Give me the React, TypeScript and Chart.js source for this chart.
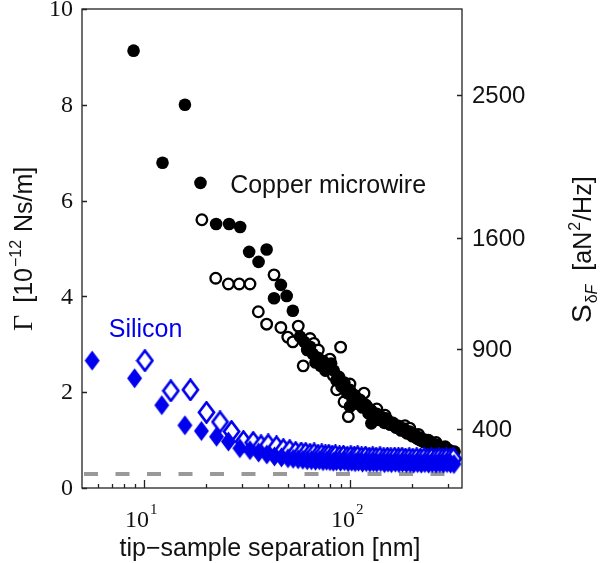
import React, { useEffect, useRef } from "react";
import { Chart, registerables } from "chart.js";

Chart.register(...registerables);

// ---- axes ----
const X_MIN = 5;
const X_MAX = 350;
const Y_MIN = 0;
const Y_MAX = 10;
const Y2_MIN = 29;
const Y2_MAX = 3041;
const yTicks = [0, 2, 4, 6, 8, 10];
const y2Ticks = [400, 900, 1600, 2500];
const xMajorTicks = [10, 100];
const xMajorExponents = ["1", "2"];
const xMinorTicks = [6, 7, 8, 9, 20, 30, 40, 50, 60, 70, 80, 90, 200, 300];
const noiseFloor = 0.29;

// ---- copper microwire (filled circles) ----
const copperFilledX = [8.9, 12.3, 15.8, 18.8, 22.4, 25.9, 29.3, 32.4, 36.0, 39.4, 42.8, 46.2, 49.3, 52.8, 57.2, 60, 62, 64, 66, 68, 70, 72, 74, 76, 78.5, 81, 83.5, 86, 88.5, 91, 94, 97, 100, 100, 103, 106, 109, 112, 114, 115, 119, 123, 127, 127, 131, 135, 139, 143, 147, 152, 157, 162, 167, 172, 177, 183, 189, 195, 201, 207, 214, 221, 228, 235, 242, 250, 258, 266, 275, 284, 293, 302, 312, 322];
const copperFilledY = [9.13, 6.79, 8.0, 6.37, 5.51, 5.51, 5.45, 4.93, 4.72, 4.98, 3.96, 4.24, 4.01, 3.7, 3.16, 3.05, 2.88, 2.95, 2.8, 2.62, 2.72, 2.55, 2.65, 2.45, 2.52, 2.6, 2.45, 2.25, 2.32, 2.12, 2.2, 1.98, 2.05, 1.7, 1.85, 1.92, 1.76, 1.84, 1.77, 1.68, 1.74, 1.56, 1.62, 1.35, 1.48, 1.55, 1.42, 1.48, 1.36, 1.42, 1.32, 1.36, 1.26, 1.3, 1.2, 1.24, 1.14, 1.18, 1.08, 1.12, 1.02, 1.05, 0.96, 1.0, 0.92, 0.95, 0.87, 0.9, 0.83, 0.85, 0.79, 0.8, 0.75, 0.76];

// ---- copper microwire (open circles) ----
const copperOpenX = [19.1, 22.3, 25.7, 29.0, 32.7, 35.9, 39.4, 42.8, 46.2, 49.9, 52.8, 56.1, 59.3, 64.0, 66.8, 70.2, 74.2, 76.9, 79.9, 83, 86.2, 90.1, 93.6, 97, 98.2, 100, 104, 107.7, 111, 117, 121, 124, 127, 132, 135, 137, 142, 148, 150, 154, 160, 166, 172, 181, 185, 190, 195, 202, 210, 215, 220, 232, 240, 245, 256, 262, 268, 282, 290, 296, 312];
const copperOpenY = [5.6, 4.38, 4.26, 4.26, 4.26, 3.68, 3.42, 4.45, 3.35, 3.15, 3.05, 3.38, 2.55, 3.12, 3.02, 2.88, 2.58, 2.46, 2.69, 2.35, 2.05, 2.94, 1.8, 2.1, 1.49, 2.17, 1.95, 1.91, 1.75, 1.98, 1.7, 1.62, 1.59, 1.59, 1.65, 1.48, 1.42, 1.52, 1.45, 1.38, 1.35, 1.3, 1.28, 1.21, 1.3, 1.15, 1.25, 1.11, 1.05, 1.12, 1.0, 0.97, 1.0, 0.9, 0.87, 0.95, 0.83, 0.8, 0.86, 0.77, 0.73];

// ---- silicon (filled diamonds) ----
const siliconFilledX = [5.6, 9.0, 12.2, 15.8, 19.0, 22.5, 25.7, 29.2, 32.7, 36, 39.5, 43, 46.5, 50, 53, 56, 59, 62, 65, 68, 71, 74, 77, 80, 83, 86, 90, 94, 98, 102, 106, 110, 115, 120, 125, 130, 135, 141, 147, 153, 159, 166, 173, 180, 188, 196, 204, 213, 222, 231, 241, 251, 262, 273, 284, 296, 308, 320];
const siliconFilledY = [2.66, 2.29, 1.73, 1.31, 1.19, 1.07, 0.97, 0.83, 0.79, 0.74, 0.7, 0.66, 0.64, 0.62, 0.61, 0.6, 0.59, 0.58, 0.58, 0.57, 0.58, 0.56, 0.57, 0.56, 0.55, 0.56, 0.55, 0.56, 0.54, 0.55, 0.54, 0.55, 0.53, 0.54, 0.53, 0.54, 0.53, 0.54, 0.52, 0.53, 0.52, 0.53, 0.52, 0.53, 0.52, 0.52, 0.51, 0.52, 0.51, 0.52, 0.51, 0.52, 0.51, 0.52, 0.51, 0.52, 0.51, 0.5];

// ---- silicon (open diamonds) ----
const siliconOpenX = [10.1, 13.5, 16.8, 20.1, 23.4, 26.6, 30.4, 33.9, 37, 40.1, 44, 47.5, 51, 54.5, 58, 61, 64, 67, 70, 73, 76, 79, 82, 85, 89, 93, 97, 101, 105, 109, 114, 119, 124, 129, 134, 140, 146, 152, 158, 165, 172, 179, 186, 194, 202, 211, 220, 229, 239, 249, 260, 271, 282, 294, 306, 318];
const siliconOpenY = [2.66, 2.03, 2.05, 1.58, 1.38, 1.18, 0.97, 0.95, 0.88, 0.9, 0.86, 0.8, 0.78, 0.74, 0.73, 0.72, 0.7, 0.71, 0.68, 0.69, 0.67, 0.68, 0.66, 0.67, 0.65, 0.66, 0.64, 0.65, 0.64, 0.65, 0.63, 0.64, 0.62, 0.63, 0.62, 0.63, 0.61, 0.62, 0.61, 0.62, 0.61, 0.62, 0.6, 0.61, 0.6, 0.61, 0.6, 0.61, 0.6, 0.61, 0.6, 0.61, 0.6, 0.61, 0.6, 0.61];

// ---- annotations (data coordinates) ----
const copperLabel = { text: "Copper microwire", x: 26.2, y: 6.16 };
const siliconLabel = { text: "Silicon", x: 6.74, y: 3.15 };

const BLUE = "#0000ee";
const SANS = '"Liberation Sans", Arial, sans-serif';
const SERIF = '"Liberation Serif", "Times New Roman", serif';

function zip(xs: number[], ys: number[]) {
  return xs.map((x, i) => ({ x, y: ys[i] }));
}

function makeDiamond(filled: boolean): HTMLCanvasElement {
  const c = document.createElement("canvas");
  c.width = 19;
  c.height = 23;
  const g = c.getContext("2d")!;
  g.beginPath();
  g.moveTo(9.5, 1.5);
  g.lineTo(17, 11.5);
  g.lineTo(9.5, 21.5);
  g.lineTo(2, 11.5);
  g.closePath();
  if (filled) {
    g.fillStyle = BLUE;
    g.fill();
  } else {
    g.fillStyle = "#ffffff";
    g.fill();
    g.lineWidth = 2.7;
    g.strokeStyle = BLUE;
    g.lineJoin = "miter";
    g.stroke();
  }
  return c;
}

const framePlugin = {
  id: "frameAndLabels",
  afterDraw(chart: any) {
    const { ctx, chartArea, scales } = chart;
    const { left, right, top, bottom } = chartArea;
    const xs = scales.x;
    const ys = scales.y;
    const y2 = scales.y2;
    ctx.save();
    ctx.strokeStyle = "#222";
    ctx.lineWidth = 1.3;
    ctx.strokeRect(left, top, right - left, bottom - top);

    ctx.beginPath();
    yTicks.forEach((v) => {
      const p = Math.round(ys.getPixelForValue(v)) + 0.5;
      ctx.moveTo(left, p);
      ctx.lineTo(left + 5, p);
    });
    y2Ticks.forEach((v) => {
      const p = Math.round(y2.getPixelForValue(v)) + 0.5;
      ctx.moveTo(right, p);
      ctx.lineTo(right - 5, p);
    });
    xMajorTicks.forEach((v) => {
      const p = Math.round(xs.getPixelForValue(v)) + 0.5;
      ctx.moveTo(p, bottom);
      ctx.lineTo(p, bottom - 8);
    });
    xMinorTicks.forEach((v) => {
      const p = Math.round(xs.getPixelForValue(v)) + 0.5;
      ctx.moveTo(p, bottom);
      ctx.lineTo(p, bottom - 4);
    });
    ctx.stroke();

    ctx.fillStyle = "#111";
    // left tick labels
    ctx.font = `24px ${SERIF}`;
    ctx.textAlign = "right";
    ctx.textBaseline = "middle";
    yTicks.forEach((v) => ctx.fillText(String(v), left - 9, ys.getPixelForValue(v) + 1));

    // right tick labels
    ctx.font = `24px ${SANS}`;
    ctx.textAlign = "left";
    y2Ticks.forEach((v) => ctx.fillText(String(v), right + 10, y2.getPixelForValue(v) + 1));

    // x tick labels
    ctx.textBaseline = "alphabetic";
    xMajorTicks.forEach((v, i) => {
      const p = xs.getPixelForValue(v);
      ctx.font = `24px ${SERIF}`;
      ctx.textAlign = "right";
      ctx.fillText("10", p + 5, 527);
      ctx.font = `15px ${SERIF}`;
      ctx.textAlign = "left";
      ctx.fillText(xMajorExponents[i], p + 6, 514);
    });

    // x title
    ctx.font = `25px ${SANS}`;
    ctx.textAlign = "center";
    ctx.fillText("tip\u2212sample separation [nm]", (left + right) / 2 - 2, 556);

    // left title (rotated)
    ctx.save();
    ctx.translate(32, 331);
    ctx.rotate(-Math.PI / 2);
    ctx.textAlign = "left";
    let cx = 0;
    ctx.font = `28px ${SERIF}`;
    ctx.fillText("\u0393", cx, 0);
    cx += ctx.measureText("\u0393").width + 12;
    ctx.font = `25px ${SANS}`;
    ctx.fillText("[10", cx, 0);
    cx += ctx.measureText("[10").width + 1;
    ctx.font = `16px ${SANS}`;
    ctx.fillText("\u221212", cx, -11);
    cx += ctx.measureText("\u221212").width + 1;
    ctx.font = `25px ${SANS}`;
    ctx.fillText(" Ns/m]", cx, 0);
    ctx.restore();

    // right title (rotated)
    ctx.save();
    ctx.translate(591, 323);
    ctx.rotate(-Math.PI / 2);
    ctx.textAlign = "left";
    cx = 0;
    ctx.font = `28px ${SANS}`;
    ctx.fillText("S", cx, 0);
    cx += ctx.measureText("S").width + 1;
    ctx.font = `16px ${SANS}`;
    ctx.fillText("\u03b4", cx, 6);
    cx += ctx.measureText("\u03b4").width;
    ctx.font = `italic 16px ${SANS}`;
    ctx.fillText("F", cx, 6);
    cx += ctx.measureText("F").width + 14;
    ctx.font = `25px ${SANS}`;
    ctx.fillText("[aN", cx, 0);
    cx += ctx.measureText("[aN").width + 1;
    ctx.font = `16px ${SANS}`;
    ctx.fillText("2", cx, -11);
    cx += ctx.measureText("2").width + 1;
    ctx.font = `25px ${SANS}`;
    ctx.fillText("/Hz]", cx, 0);
    ctx.restore();

    // annotations
    ctx.textAlign = "left";
    ctx.font = `25px ${SANS}`;
    ctx.fillStyle = "#111";
    ctx.fillText(copperLabel.text, xs.getPixelForValue(copperLabel.x), ys.getPixelForValue(copperLabel.y));
    ctx.fillStyle = BLUE;
    ctx.fillText(siliconLabel.text, xs.getPixelForValue(siliconLabel.x), ys.getPixelForValue(siliconLabel.y));
    ctx.restore();
  },
};

export default function App() {
  const ref = useRef<HTMLCanvasElement | null>(null);
  useEffect(() => {
    if (!ref.current) return;
    const filledDiamond = makeDiamond(true);
    const openDiamond = makeDiamond(false);
    const chart = new Chart(ref.current, {
      type: "scatter",
      data: {
        datasets: [
          {
            label: "noise floor",
            type: "line",
            data: [
              { x: X_MIN, y: noiseFloor },
              { x: X_MAX, y: noiseFloor },
            ],
            borderColor: "#999999",
            borderWidth: 4,
            borderDash: [14, 17.5],
            borderDashOffset: -2,
            borderCapStyle: "butt",
            pointRadius: 0,
            showLine: true,
            order: 10,
          } as any,
          {
            label: "Copper open",
            data: zip(copperOpenX, copperOpenY),
            pointStyle: "circle",
            pointRadius: 5.3,
            borderWidth: 2.3,
            borderColor: "#000",
            backgroundColor: "#fff",
            order: 9,
          },
          {
            label: "Copper filled",
            data: zip(copperFilledX, copperFilledY),
            pointStyle: "circle",
            pointRadius: 6.3,
            borderWidth: 0,
            borderColor: "#000",
            backgroundColor: "#000",
            order: 8,
          },
          {
            label: "Silicon open",
            data: zip(siliconOpenX, siliconOpenY),
            pointStyle: openDiamond,
            pointRadius: 8,
            order: 7,
          } as any,
          {
            label: "Silicon filled",
            data: zip(siliconFilledX, siliconFilledY),
            pointStyle: filledDiamond,
            pointRadius: 8,
            order: 6,
          } as any,
        ],
      },
      options: {
        responsive: false,
        animation: false,
        layout: { padding: { left: 82, right: 139, top: 9, bottom: 75 } },
        plugins: { legend: { display: false }, tooltip: { enabled: false } },
        elements: { point: { hoverRadius: 0 } },
        datasets: { scatter: { clip: 0 } as any, line: { clip: 0 } as any },
        scales: {
          x: { type: "logarithmic", min: X_MIN, max: X_MAX, display: false },
          y: { type: "linear", min: Y_MIN, max: Y_MAX, display: false },
          y2: { type: "linear", position: "right", min: Y2_MIN, max: Y2_MAX, display: false },
        },
      },
      plugins: [framePlugin],
    });
    return () => chart.destroy();
  }, []);
  return (
    <div style={{ position: "absolute", left: 0, top: 0, width: 601, height: 563, background: "#fff" }}>
      <canvas ref={ref} width={601} height={563} style={{ display: "block" }} />
    </div>
  );
}
